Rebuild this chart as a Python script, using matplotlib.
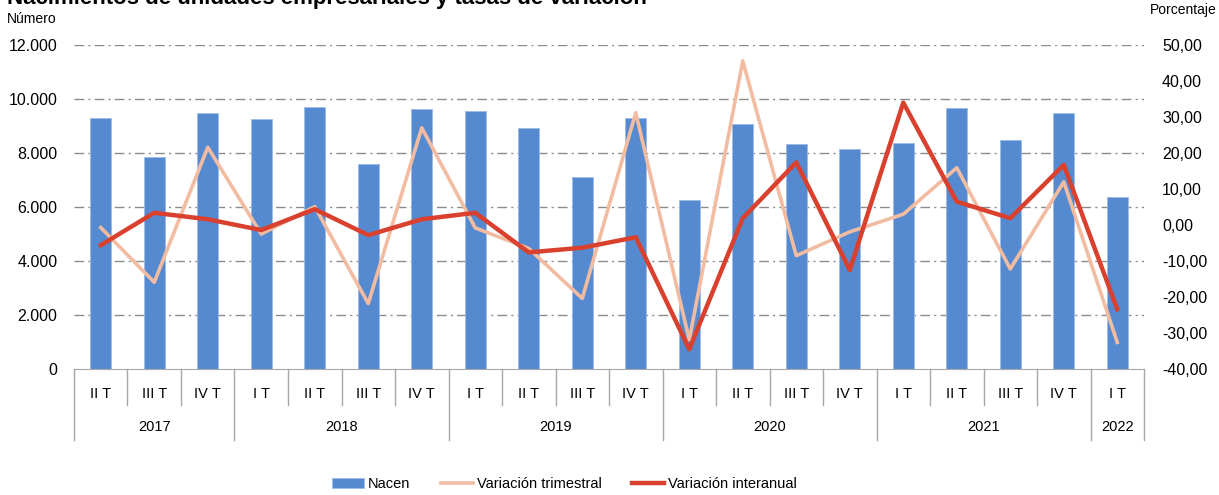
import numpy as np
import matplotlib.pyplot as plt
from matplotlib.transforms import blended_transform_factory
from matplotlib.ticker import FuncFormatter

plt.rcParams['font.family'] = ['Liberation Sans', 'DejaVu Sans']

# datos
trimestres = ['II T', 'III T', 'IV T',
              'I T', 'II T', 'III T', 'IV T',
              'I T', 'II T', 'III T', 'IV T',
              'I T', 'II T', 'III T', 'IV T',
              'I T', 'II T', 'III T', 'IV T',
              'I T']
anios = ['2017'] * 3 + ['2018'] * 4 + ['2019'] * 4 + ['2020'] * 4 + ['2021'] * 4 + ['2022']
nacen = [9290, 7840, 9490, 9250, 9690, 7590, 9630,
         9540, 8940, 7110, 9310, 6250, 9090, 8330, 8140,
         8360, 9670, 8480, 9470, 6380]
var_trimestral = [-0.7, -15.9, 21.6, -2.5, 5.1, -21.8, 27.0,
                  -0.8, -6.5, -20.4, 31.2, -31.9, 45.6, -8.5, -1.9,
                  3.0, 15.9, -12.2, 12.0, -32.6]
var_interanual = [-5.6, 3.4, 1.6, -1.4, 4.4, -2.8, 1.6,
                  3.4, -7.6, -6.3, -3.4, -34.5, 1.9, 17.4, -12.5,
                  34.0, 6.5, 1.9, 16.7, -23.4]

azul = '#558ad0'
rosa = '#f2bca2'
rojo = '#d9402e'
gris = '#a6a6a6'

fig = plt.figure(figsize=(12.19, 4.95), dpi=100)
ax = fig.add_axes([0.0607, 0.2545, 0.8778, 0.6545])
x = np.arange(len(nacen))

barras = ax.bar(x, nacen, width=0.4, color=azul, edgecolor='#9dbbe6', linewidth=0.6,
                zorder=2, label='Nacen')
ax.set_ylim(0, 12000)
ax.set_yticks(np.arange(0, 12001, 2000))
ax.yaxis.set_major_formatter(FuncFormatter(lambda v, p: f'{int(v):,}'.replace(',', '.')))
ax.set_xlim(-0.5, len(nacen) - 0.5)
for v in range(2000, 12001, 2000):
    ax.axhline(v, color='#8c8c8c', lw=1, ls=(0, (7, 3, 1.5, 3)), zorder=1)

ax2 = ax.twinx()
l1, = ax2.plot(x, var_trimestral, color=rosa, lw=2.6, zorder=3, label='Variación trimestral')
l2, = ax2.plot(x, var_interanual, color=rojo, lw=3.2, zorder=4, label='Variación interanual')
ax2.set_ylim(-40, 50)
ax2.set_yticks(np.arange(-40, 51, 10))
ax2.yaxis.set_major_formatter(FuncFormatter(lambda v, p: f'{v:.2f}'.replace('.', ',')))

for a in (ax, ax2):
    for s in a.spines.values():
        s.set_visible(False)
    a.tick_params(axis='y', length=0, labelsize=11.5)
ax.tick_params(axis='y', pad=12)
ax2.tick_params(axis='y', pad=13)
ax.spines['bottom'].set_visible(True)
ax.spines['bottom'].set_color(gris)

# eje de categorias en dos niveles
ax.set_xticks(x)
ax.set_xticklabels(trimestres, fontsize=10.5)
ax.tick_params(axis='x', length=0, pad=13)
tr = blended_transform_factory(ax.transData, ax.transAxes)
for i in range(len(nacen) + 1):
    borde = i - 0.5
    es_anio = i == 0 or i == len(nacen) or anios[i] != anios[i - 1]
    fondo = -0.22 if es_anio else -0.11
    ax.plot([borde, borde], [0, fondo], color=gris, lw=1, transform=tr, clip_on=False)

grupos = []
for i, a in enumerate(anios):
    if not grupos or grupos[-1][0] != a:
        grupos.append([a, i, i])
    else:
        grupos[-1][2] = i
for a, ini, fin in grupos:
    ax.text((ini + fin) / 2, -0.18, a, transform=tr, ha='center', va='center', fontsize=10.5)

fig.text(0.006, 0.991, 'Nacimientos de unidades empresariales y tasas de variación',
         fontsize=16, fontweight='bold', va='baseline', ha='left')
fig.text(0.006, 0.962, 'Número', fontsize=10, va='center', ha='left')
fig.text(0.998, 0.979, 'Porcentaje', fontsize=10, va='center', ha='right')

fig.legend([barras, l1, l2], ['Nacen', 'Variación trimestral', 'Variación interanual'],
           loc='center', bbox_to_anchor=(0.463, 0.022), ncol=3, frameon=False,
           fontsize=10.5, handlelength=2.2, handletextpad=0.25, columnspacing=2.1)

fig.savefig('out.png', dpi=100)
